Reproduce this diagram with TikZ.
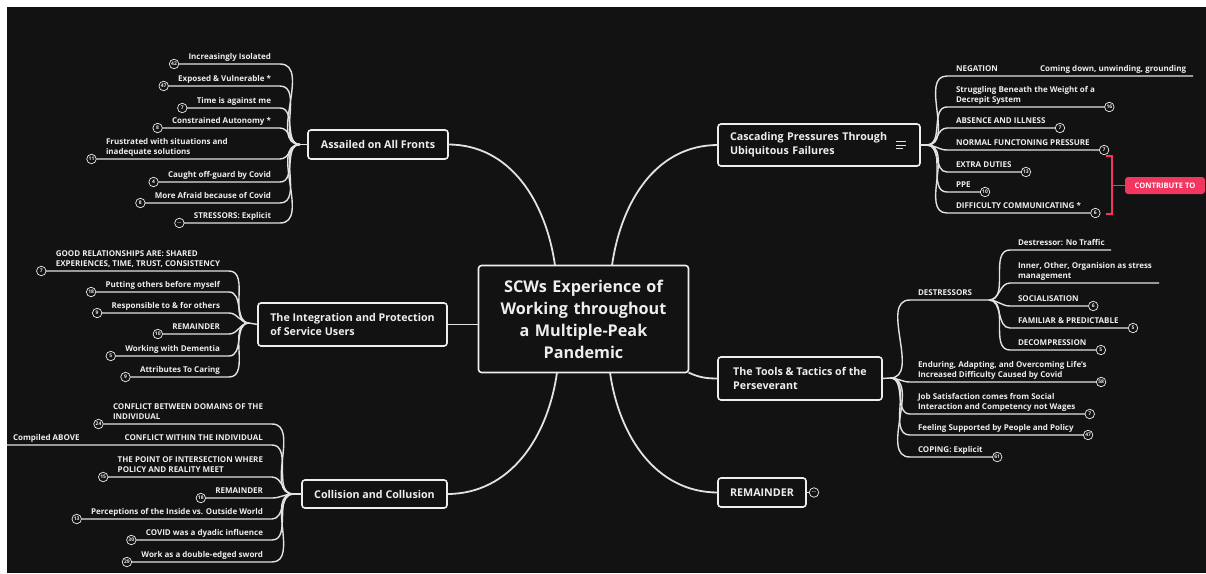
\documentclass[tikz,border=0pt]{standalone}
\usepackage{fontspec}
\setmainfont{Open Sans}
\definecolor{bg}{HTML}{121212}
\definecolor{fg}{HTML}{EEEEEE}
\definecolor{ln}{HTML}{E2E2E2}
\definecolor{accent}{HTML}{F2365F}

% left-hand leaf: [text opts]{name}{fork}{text x}{line end x}{line y}{text}{count}
\newcommand\leafL[8][anchor=south east]{%
  \coordinate (#2-e) at (#5,#6);
  \node[lftxt,#1] (#2-t) at (#4,#6-2.2) {#7};
  \node[num,xshift=-14.5pt] (#2-c) at (#2-t.west |- #2-e) {#8};
  \draw[leafline] (#2-c.east) -- (#2-e) to[out=0,in=180] (#3);
}
% right-hand leaf: [text opts]{name}{fork}{text x}{line start x}{line y}{text}{count}
\newcommand\leafR[8][anchor=south west]{%
  \coordinate (#2-e) at (#5,#6);
  \node[lftxt,#1] (#2-t) at (#4,#6-2.2) {#7};
  \node[num,xshift=14.5pt] (#2-c) at (#2-t.east |- #2-e) {#8};
  \draw[leafline] (#3) to[out=0,in=180] (#2-e) -- (#2-c.west);
}

\begin{document}
\begin{tikzpicture}[x=1pt,y=-1pt,
  every node/.style={inner sep=0pt, outer sep=0pt, text=fg},
  lftxt/.style={font=\fontsize{8}{10.8}\selectfont\bfseries, align=left,
    execute at end node=\vphantom{gy}},
  num/.style={circle, draw=fg, line width=0.7pt, fill=bg, minimum size=9.5pt,
    font=\fontsize{5}{6}\selectfont\bfseries},
  leafline/.style={draw=ln, line width=1.4pt},
  mainline/.style={draw=ln, line width=1.8pt},
  mainbox/.style={draw=fg, line width=1.6pt, rounded corners=3pt, fill=bg,
    font=\fontsize{10.7}{14}\selectfont\bfseries, inner xsep=12pt, align=left},
  tagbox/.style={fill=accent, rounded corners=3pt, text=white,
    font=\fontsize{7.6}{9}\selectfont\bfseries, align=center}]

\useasboundingbox (0,0) rectangle (1206,573);
\fill[white] (0,0) rectangle (1206,573);
\fill[bg] (7,7) rectangle (1206,573);

% ---- central topic and main topics
\node[mainbox, font=\fontsize{16.2}{22}\selectfont\bfseries, align=center,
  text width=186pt, minimum height=107pt] (ctr) at (583.5,319)
  {SCWs Experience of\\Working throughout\\a Multiple-Peak\\Pandemic};

\node[mainbox, minimum width=140pt, minimum height=29pt, align=center] (assail) at (378,144.5) {Assailed on All Fronts};
\node[mainbox, minimum width=189pt, minimum height=43pt, inner xsep=8pt] (integ) at (352.5,324.5) {The Integration and Protection\\of Service Users};
\node[mainbox, minimum width=145pt, minimum height=28pt, align=center] (coll) at (374.5,494) {Collision and Collusion};
\node[mainbox, text width=178pt, minimum height=42pt] (casc) at (819,145) {Cascading Pressures Through\\Ubiquitous Failures};
\node[mainbox, minimum width=164pt, minimum height=43pt, inner xsep=8pt] (tools) at (800,378.5) {The Tools \& Tactics of the\\Perseverant};
\node[mainbox, minimum width=88pt, minimum height=29pt, align=center] (rem) at (762,492.5) {REMAINDER};

% notes icon on the cascading topic
\draw[ln, line width=1pt] (896,141.5) -- (906,141.5) (896,145) -- (906,145) (896,148.5) -- (903,148.5);

% ---- main connectors
\draw[mainline] (assail.east) to[out=0,in=98] ([xshift=-28.5pt]ctr.north);
\draw[mainline] (casc.west) to[out=180,in=82] ([xshift=28.5pt]ctr.north);
\draw[mainline] (integ.east) -- (integ.east -| ctr.west);
\draw[mainline] (coll.east) to[out=0,in=-98] ([xshift=-26.5pt]ctr.south);
\draw[mainline] (rem.west) to[out=180,in=-82] ([xshift=26.5pt]ctr.south);
\draw[mainline] (tools.west) to[out=180,in=-25] (ctr.south east);

% ---- fork points
\coordinate (af) at (300,144.5);
\coordinate (if) at (249,323);
\coordinate (kf) at (293,494);
\coordinate (cf) at (927,145);
\coordinate (tf) at (890,378);
\coordinate (df) at (989,300);
\draw[leafline] (assail.west) -- (af);
\draw[leafline] (integ.west) -- (if);
\draw[leafline] (coll.west) -- (kf);
\draw[leafline] (casc.east) -- (cf);
\draw[leafline] (tools.east) -- (tf);

% ---- Assailed on All Fronts
\leafL{a1}{af}{271}{280}{64}{Increasingly Isolated}{42}
\leafL{a2}{af}{271}{280}{86}{Exposed \& Vulnerable *}{47}
\leafL{a3}{af}{271}{280}{108}{Time is against me}{7}
\leafL{a4}{af}{271}{280}{128}{Constrained Autonomy *}{8}
\leafL[anchor=south west]{a5}{af}{106}{280}{159}{Frustrated with situations and\\inadequate solutions}{11}
\leafL{a6}{af}{271}{280}{182}{Caught off-guard by Covid}{4}
\leafL{a7}{af}{271}{280}{203}{More Afraid because of Covid}{8}
\leafL{a8}{af}{271}{280}{223}{STRESSORS: Explicit}{...}

% ---- The Integration and Protection of Service Users
\leafL{i1}{if}{220}{229}{271}{GOOD RELATIONSHIPS ARE: SHARED\\EXPERIENCES, TIME, TRUST, CONSISTENCY}{7}
\leafL{i2}{if}{220}{229}{292}{Putting others before myself}{18}
\leafL{i3}{if}{220}{229}{313}{Responsible to \& for others}{9}
\leafL{i4}{if}{220}{229}{334}{REMAINDER}{10}
\leafL{i5}{if}{220}{229}{356}{Working with Dementia}{5}
\leafL{i6}{if}{220}{229}{377}{Attributes To Caring}{9}

% ---- Collision and Collusion
\leafL{k1}{kf}{263}{272}{424}{CONFLICT BETWEEN DOMAINS OF THE\\INDIVIDUAL}{24}
\coordinate (k2-e) at (272,445);
\coordinate (k2-l) at (7,445);
\node[lftxt, anchor=south east] (k2-t) at (263,445-2.2) {CONFLICT WITHIN THE INDIVIDUAL};
\node[lftxt, anchor=south west] (k2a-t) at (13,445-2.2) {Compiled ABOVE};
\draw[leafline] (k2-l) -- (k2-e) to[out=0,in=180] (kf);
\leafL{k3}{kf}{263}{272}{477}{THE POINT OF INTERSECTION WHERE\\POLICY AND REALITY MEET}{15}
\leafL{k4}{kf}{263}{272}{498}{REMAINDER}{18}
\leafL{k5}{kf}{263}{272}{519}{Perceptions of the Inside vs. Outside World}{13}
\leafL{k6}{kf}{263}{272}{540}{COVID was a dyadic influence}{30}
\leafL{k7}{kf}{263}{272}{562}{Work as a double-edged sword}{29}

% ---- Cascading Pressures Through Ubiquitous Failures
\coordinate (c1-e) at (947,76);
\coordinate (c1-r) at (1193,76);
\node[lftxt, anchor=south west] (c1-t) at (956,76-2.2) {NEGATION};
\node[lftxt, anchor=south west] (c1a-t) at (1040,76-2.2) {Coming down, unwinding, grounding};
\draw[leafline] (cf) to[out=0,in=180] (c1-e) -- (c1-r);
\leafR{c2}{cf}{956}{947}{107}{Struggling Beneath the Weight of a\\Decrepit System}{16}
\leafR{c3}{cf}{956}{947}{128}{ABSENCE AND ILLNESS}{7}
\leafR{c4}{cf}{956}{947}{150}{NORMAL FUNCTONING PRESSURE}{7}
\leafR{c5}{cf}{956}{947}{172}{EXTRA DUTIES}{13}
\leafR{c6}{cf}{956}{947}{192}{PPE}{10}
\leafR{c7}{cf}{956}{947}{213}{DIFFICULTY COMMUNICATING *}{6}

% summary bracket
\coordinate (br1) at (1106,156);
\coordinate (br2) at (1112,156);
\coordinate (br3) at (1112,214);
\coordinate (br4) at (1106,214);
\coordinate (brm) at (1112,185.5);
\node[tagbox, minimum width=80pt, minimum height=17pt] (contrib) at (1165,185.5) {CONTRIBUTE TO};
\draw[accent, line width=1.6pt] (br1) -- (br2) -- (br3) -- (br4);
\draw[accent, line width=1.6pt] (brm) -- (contrib.west);

% ---- The Tools & Tactics of the Perseverant
\coordinate (t1-e) at (910,300);
\node[lftxt, anchor=south west] (t1-t) at (918,300-2.2) {DESTRESSORS};
\draw[leafline] (tf) to[out=0,in=180] (t1-e) -- (df);

\coordinate (d1-e) at (1010,250);
\coordinate (d1-r) at (1111,250);
\node[lftxt, anchor=south west] (d1-t) at (1018,250-2.2) {Destressor: No Traffic};
\draw[leafline] (df) to[out=0,in=180] (d1-e) -- (d1-r);
\coordinate (d2-e) at (1010,283);
\coordinate (d2-r) at (1159,283);
\node[lftxt, anchor=south west] (d2-t) at (1018,283-2.2) {Inner, Other, Organision as stress\\management};
\draw[leafline] (df) to[out=0,in=180] (d2-e) -- (d2-r);
\leafR{d3}{df}{1018}{1010}{306}{SOCIALISATION}{6}
\leafR{d4}{df}{1018}{1010}{328}{FAMILIAR \& PREDICTABLE}{5}
\leafR{d5}{df}{1018}{1010}{350}{DECOMPRESSION}{5}

\leafR{t2}{tf}{918}{910}{382}{Enduring, Adapting, and Overcoming Life's\\Increased Difficulty Caused by Covid}{58}
\leafR{t3}{tf}{918}{910}{414}{Job Satisfaction comes from Social\\Interaction and Competency not Wages}{7}
\leafR{t4}{tf}{918}{910}{435}{Feeling Supported by People and Policy}{47}
\leafR{t5}{tf}{918}{910}{457}{COPING: Explicit}{61}

% ---- REMAINDER
\node[num] (rem-c) at (814,492.5) {...};
\draw[leafline] (rem.east) -- (rem-c.west);

\end{tikzpicture}
\end{document}
